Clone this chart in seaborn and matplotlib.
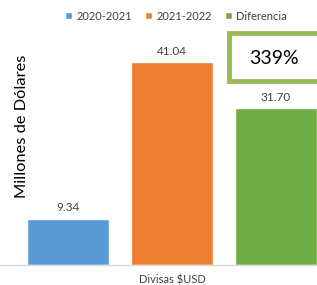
import pandas as pd
import seaborn as sns
import matplotlib
matplotlib.use('Agg')
import matplotlib.pyplot as plt
from matplotlib.patches import Patch, Rectangle

# datos
categorias = ['Divisas $USD', 'Divisas $USD', 'Divisas $USD']
periodos = ['2020-2021', '2021-2022', 'Diferencia']
valores = [9.34, 41.04, 31.70]
crecimiento = '339%'
colores = ['#5B9BD5', '#ED7D31', '#70AD47']

df = pd.DataFrame({'categoria': categorias, 'periodo': periodos, 'valor': valores})

sns.set_theme(style='white')
plt.rcParams['font.family'] = ['Lato', 'DejaVu Sans']

fig = plt.figure(figsize=(3.17, 2.85), dpi=100)
ax = fig.add_axes([0, 20 / 285, 1, 265 / 285])

sns.barplot(data=df, x='categoria', y='valor', hue='periodo', palette=colores,
            width=0.8, gap=0.21, saturation=1, ax=ax, legend=False)

for cont in ax.containers:
    ax.bar_label(cont, fmt='%.2f', padding=4, fontsize=8.5, color='#404040')

ax.set_xlim(-0.441, 0.372)
ax.set_ylim(0, 53.6)
ax.set_yticks([])
ax.tick_params(axis='x', length=0, labelbottom=False)
for s in ['top', 'right', 'left']:
    ax.spines[s].set_visible(False)
ax.spines['bottom'].set_color('#D9D9D9')
ax.spines['bottom'].set_linewidth(1)

ax.set_xlabel('Divisas $USD', fontsize=8, color='#404040')
ax.xaxis.set_label_coords(0.543, -0.036)
ax.set_ylabel('Millones de Dólares', fontsize=11.8, color='black')
ax.yaxis.set_label_coords(0.093, 0.525)

handles = [Patch(facecolor=c, label=p) for c, p in zip(colores, periodos)]
fig.legend(handles=handles, loc='center', bbox_to_anchor=(0.555, 1 - 16 / 285), ncol=3,
           frameon=False, fontsize=8, handlelength=0.6, handleheight=0.6,
           handletextpad=0.4, columnspacing=1.2, labelcolor='#404040')

# cuadro del porcentaje
fig.patches.append(Rectangle((229 / 317, 1 - 81 / 285), 0.4, 48 / 285, transform=fig.transFigure,
                             facecolor='white', edgecolor='#9BBB59', linewidth=3.5))
fig.text(274 / 317, 1 - 58 / 285, crecimiento, fontsize=14, ha='center', va='center', color='black')

fig.savefig('out.png', dpi=100)
